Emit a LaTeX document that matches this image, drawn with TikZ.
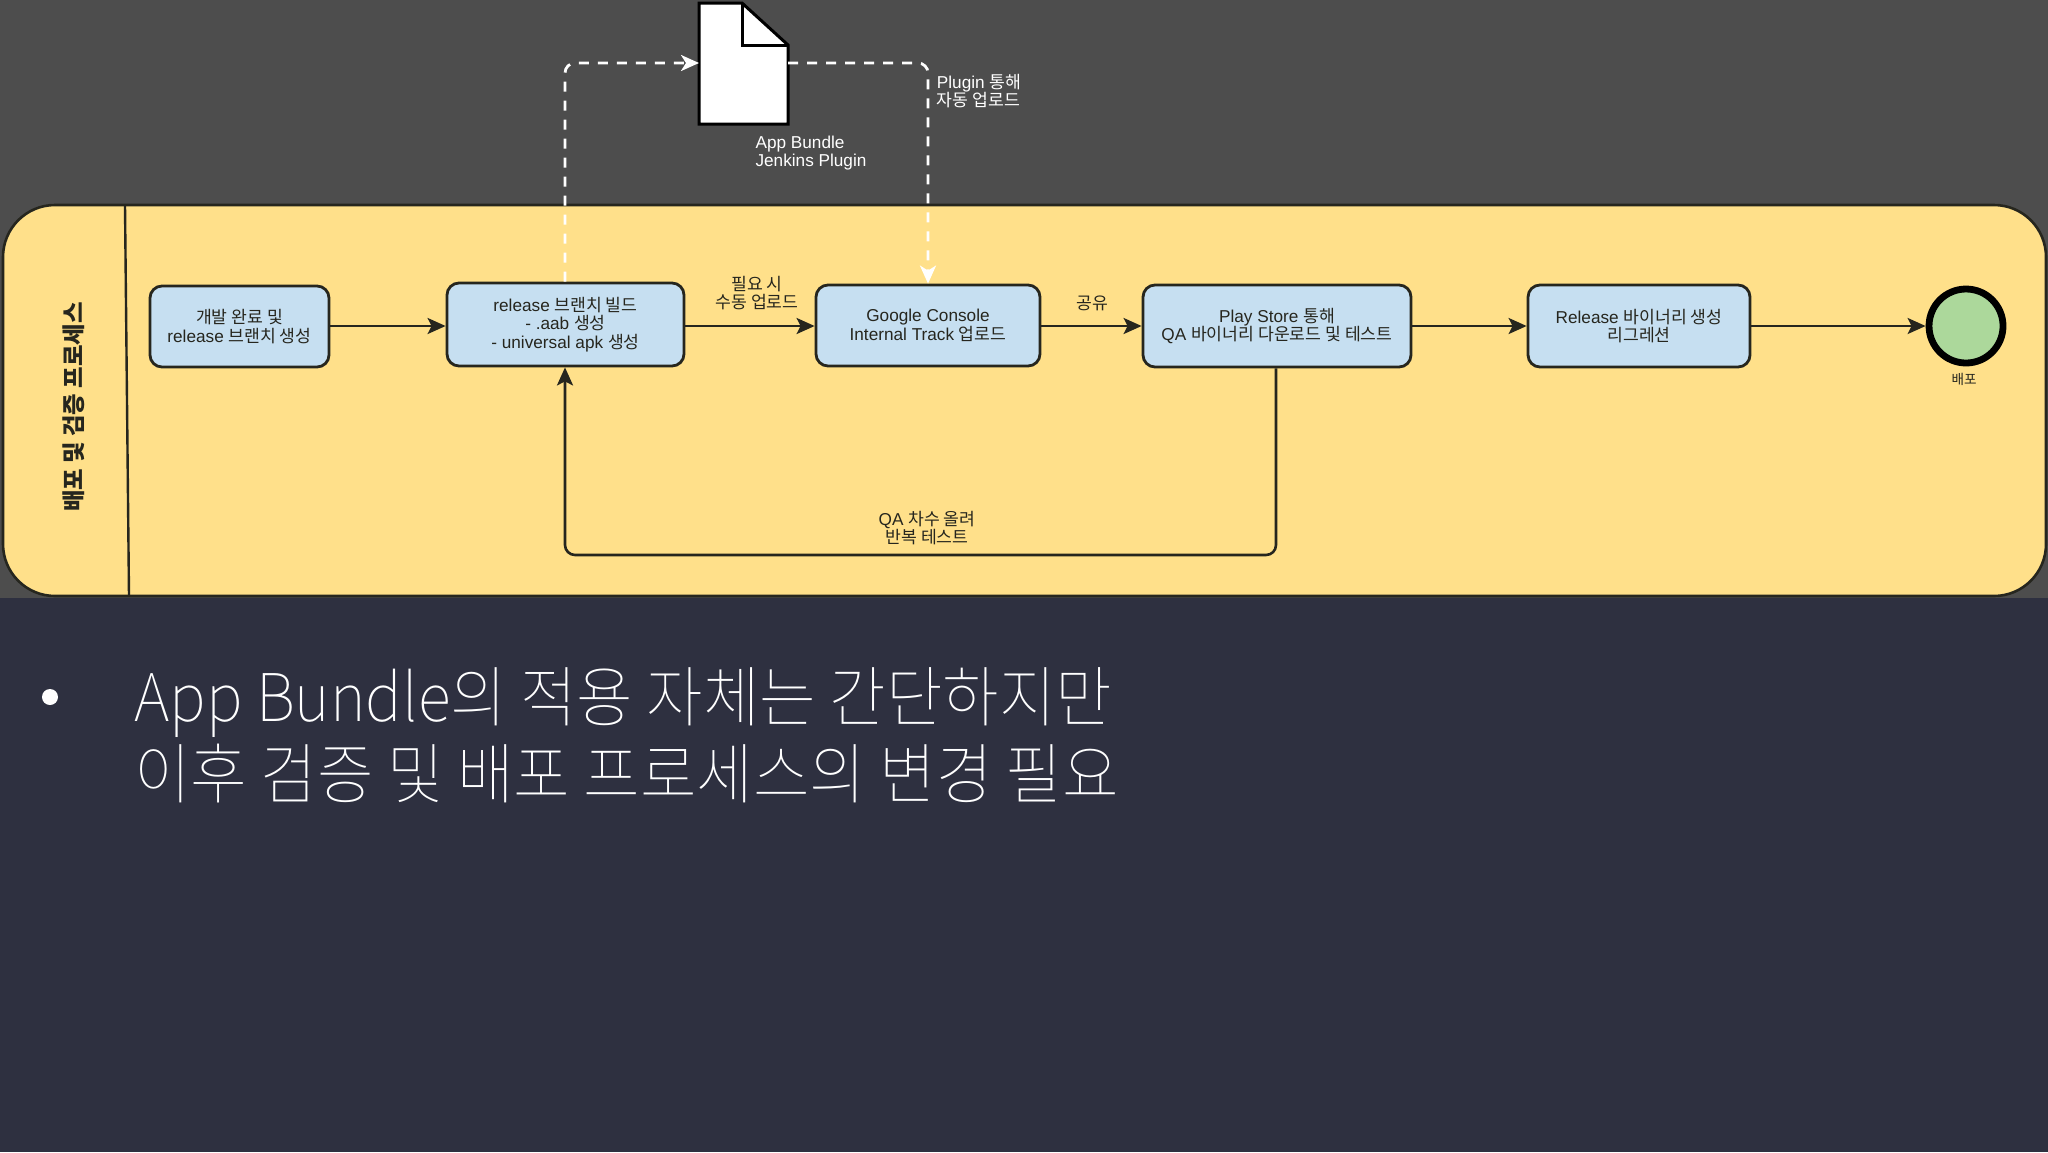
\documentclass[tikz,border=0pt]{standalone}
\usepackage{fontspec}
\setmainfont{Liberation Sans}
\newfontfamily\kr{Noto Sans CJK KR}
\newfontfamily\krl{Noto Sans CJK KR Thin}[FakeStretch=0.93]
\usetikzlibrary{arrows.meta}
\definecolor{topbg}{HTML}{4D4D4D}
\definecolor{botbg}{HTML}{2E3040}
\definecolor{pool}{HTML}{FFE08A}
\definecolor{task}{HTML}{C6DFF1}
\definecolor{endfill}{HTML}{ACD89B}
\definecolor{ink}{HTML}{26261E}
\tikzset{
  x=0.5pt,y=-0.5pt,
  taskbox/.style={draw=ink,line width=1.4pt,fill=task,rounded corners=6pt,minimum height=0pt,inner sep=0pt},
  lab/.style={font=\fontsize{8.6}{9.4}\selectfont,text=ink,align=center,inner sep=0pt},
  wlab/.style={lab,text=white,align=left},
  flow/.style={draw=ink,line width=1.3pt,-{Stealth[length=9pt,width=8pt,inset=2pt]}},
  dflow/.style={draw=white,line width=1.4pt,dash pattern=on 5pt off 4.5pt,rounded corners=5pt,-{Stealth[length=9pt,width=8pt,inset=2.5pt]}},
}
\newcommand{\taskat}[6]{\path[taskbox] (#2,#4) rectangle (#3,#5);
  \node[taskbox,draw=none,fill=none,minimum width={(#3-#2)*0.5pt},minimum height={(#5-#4)*0.5pt}] (#1) at ({(#2+#3)/2},{(#4+#5)/2}) {};
  \node[lab] (#1t) at (#1) {#6};}
\begin{document}
\begin{tikzpicture}
\useasboundingbox (0,0) rectangle (2048,1152);
\fill[topbg] (0,0) rectangle (2048,600);
\fill[botbg] (0,598) rectangle (2048,1152);
\draw[draw=ink,line width=1.3pt,fill=pool,rounded corners=26pt] (3,205) rectangle (2046,596);
\draw[ink,line width=1.2pt] (125,205) -- (129,596);
\node[lab,rotate=90,font=\fontsize{11.7}{13}\selectfont\bfseries] (pl) at (74,407) {\kr 배포 및 검증 프로세스};

\taskat{a}{150}{329}{286}{367}{{\kr 개발 완료 및}\\release {\kr 브랜치 생성}}
\taskat{b}{447}{684}{283}{366}{release {\kr 브랜치 빌드}\\- .aab {\kr 생성}\\- universal apk {\kr 생성}}
\taskat{c}{816}{1040}{285}{366}{Google Console\\Internal Track {\kr 업로드}}
\taskat{d}{1143}{1411}{285}{367}{Play Store {\kr 통해}\\QA {\kr 바이너리 다운로드 및 테스트}}
\taskat{e}{1528}{1750}{285}{367}{Release {\kr 바이너리 생성}\\{\kr 리그레션}}

\node[circle,draw=black,line width=3.4pt,fill=endfill,minimum size=37pt,inner sep=0pt] (end) at (1966,326) {};
\node[lab,font=\fontsize{6.8}{8}\selectfont] (endl) at (1964,379) {\kr 배포};

\coordinate (fy) at (1000,326);
\draw[flow] (a.east |- fy) -- (b.west |- fy);
\draw[flow] (b.east |- fy) -- (c.west |- fy);
\draw[flow] (c.east |- fy) -- (d.west |- fy);
\draw[flow] (d.east |- fy) -- (e.west |- fy);
\draw[flow] (e.east |- fy) -- (end.west);

\coordinate (ret1) at (1276,555);
\coordinate (ret2) at (565,555);
\draw[flow,rounded corners=5pt] (d.south -| ret1) -- (ret1) -- (ret2) -- (b.south -| ret2);

\node[lab] (l1) at (757,293) {{\kr 필요 시}\\{\kr 수동 업로드}};
\node[lab] (l2) at (1092,303) {\kr 공유};
\node[lab] (l3) at (927,528) {QA {\kr 차수 올려}\\{\kr 반복 테스트}};

% document
\fill[white,draw=black,line width=1.5pt] (699,3) -- (742,3) -- (788,45) -- (788,124) -- (699,124) -- cycle;
\draw[black,line width=1.5pt] (742,3) -- (742,45) -- (788,45);
\coordinate (docl) at (699,63);
\coordinate (docr) at (788,63);
\node[wlab] (l4) at (811,153) {App Bundle\\Jenkins Plugin};
\node[wlab] (l5) at (979,91) {Plugin {\kr 통해}\\{\kr 자동 업로드}};

\coordinate (up1) at (565,63);
\coordinate (up2) at (928,63);
\draw[dflow] (b.north -| up1) -- (up1) -- (docl);
\draw[dflow] (docr) -- (up2) -- (c.north -| up2);

% bottom text
\fill[white] (50,697) circle (8);
\node[anchor=west,text=white,inner sep=0pt,align=left,font=\fontsize{33}{38.5}\selectfont\krl] (body) at (134,735) {App Bundle의 적용 자체는 간단하지만\\이후 검증 및 배포 프로세스의 변경 필요};
\end{tikzpicture}
\end{document}
